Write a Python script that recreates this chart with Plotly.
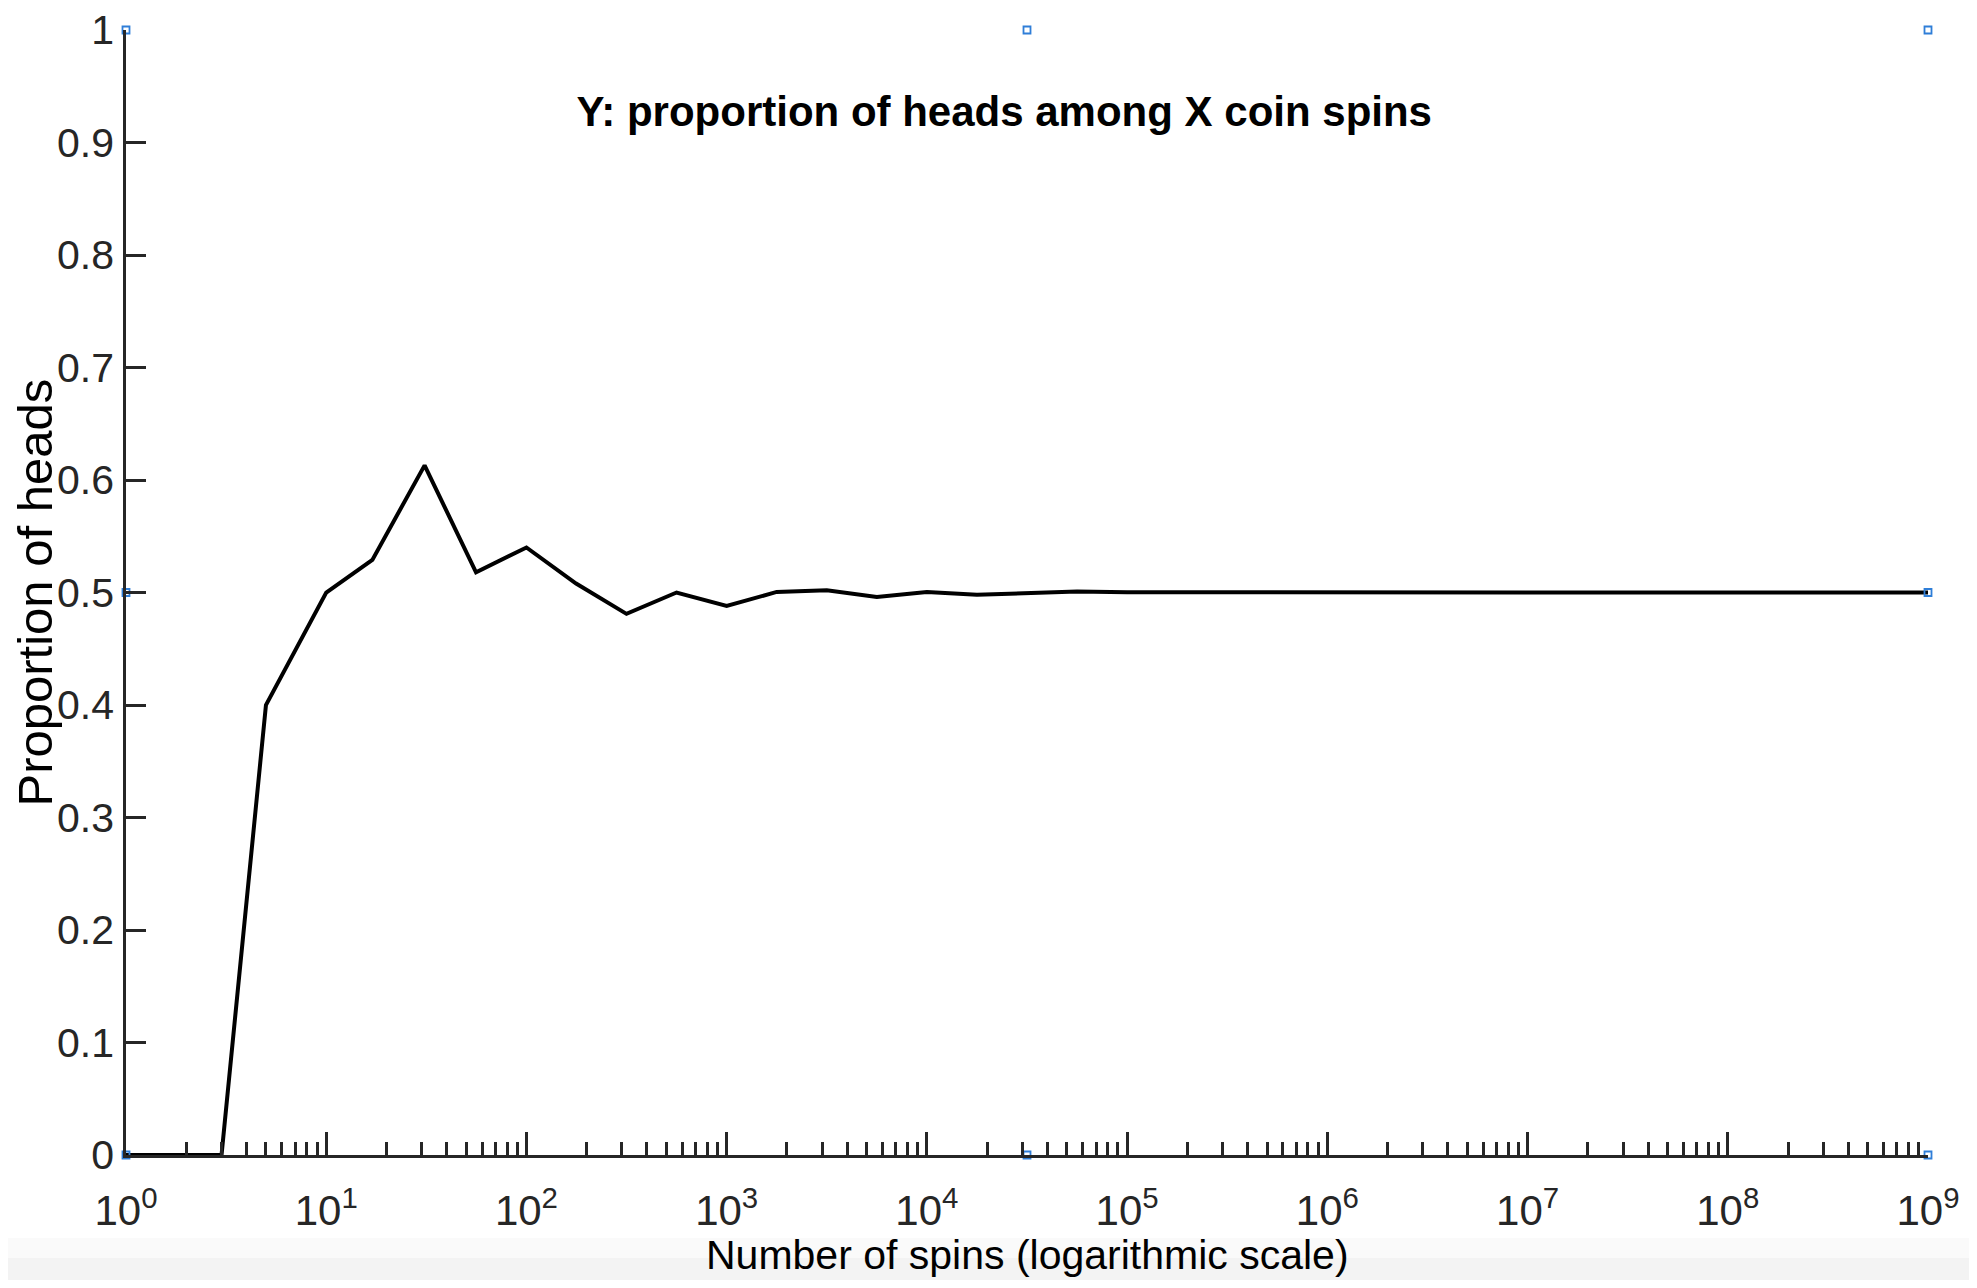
import plotly.graph_objects as go

# ---- data ----
spins = [1, 1, 3, 5, 10, 17, 31, 56, 100, 177, 316, 562, 1000, 1778, 3162, 5623,
         10000, 17782, 31622, 56234, 100000, 177827, 316227, 562341, 1000000,
         1778279, 3162277, 5623413, 10000000, 17782794, 31622776, 56234132,
         100000000, 177827941, 316227766, 562341325, 1000000000]
proportion = [0.0, 0.0, 0.0, 0.4, 0.5, 0.529, 0.613, 0.518, 0.54, 0.508, 0.481, 0.5,
              0.488, 0.5005, 0.502, 0.496, 0.5005, 0.498, 0.499, 0.5008, 0.5002,
              0.5001, 0.5003, 0.4998, 0.5, 0.5001, 0.5, 0.5, 0.5, 0.5, 0.5, 0.5,
              0.5, 0.5, 0.5, 0.5, 0.5]

x_tickvals = [1, 10, 100, 1000, 1e4, 1e5, 1e6, 1e7, 1e8, 1e9]
x_ticktext = ["10<sup>%d</sup>" % i for i in range(10)]
y_tickvals = [0, 0.1, 0.2, 0.3, 0.4, 0.5, 0.6, 0.7, 0.8, 0.9, 1]
y_ticktext = ["0", "0.1", "0.2", "0.3", "0.4", "0.5", "0.6", "0.7", "0.8", "0.9", "1"]

# selection-handle markers seen in the figure
handle_x = [1, 31622.78, 1e9, 1, 1e9, 1, 31622.78, 1e9]
handle_y = [1, 1, 1, 0.5, 0.5, 0, 0, 0]

title_text = "Y: proportion of heads among X coin spins"
x_title = "Number of spins (logarithmic scale)"
y_title = "Proportion of heads"

FONT = "Liberation Sans, Arial, sans-serif"
AX = "#262626"

W, H = 1961, 1272  # page body has an 8px margin

fig = go.Figure()
fig.add_trace(go.Scatter(x=spins, y=proportion, mode="lines",
                         line=dict(color="black", width=4), showlegend=False,
                         cliponaxis=False))
fig.add_trace(go.Scatter(x=handle_x, y=handle_y, mode="markers",
                         marker=dict(symbol="square-open", size=7,
                                     color="#2F7ED8", line=dict(width=1.8)),
                         showlegend=False, cliponaxis=False))

fig.update_layout(
    width=W, height=H,
    margin=dict(l=118, r=41, t=22, b=125),
    paper_bgcolor="white", plot_bgcolor="white",
    font=dict(family=FONT, color="black", size=42),
    title=dict(text="<b>" + title_text + "</b>", x=0.508, xanchor="center",
               y=1 - 103 / H, yanchor="middle",
               font=dict(size=42, family=FONT, color="black")),
    shapes=[
        dict(type="rect", xref="paper", yref="paper", x0=-0.1, x1=1.1,
             y0=-0.2, y1=-(1238 - 1155) / 1125, fillcolor="#fafafa",
             line=dict(width=0), layer="below"),
        dict(type="rect", xref="paper", yref="paper", x0=-0.1, x1=1.1,
             y0=-0.2, y1=-(1258 - 1155) / 1125, fillcolor="#f3f3f3",
             line=dict(width=0), layer="below"),
    ],
    annotations=[
        dict(text=x_title, xref="paper", yref="paper", x=0.5, y=0,
             xanchor="center", yanchor="middle", yshift=-100, showarrow=False,
             font=dict(size=41, family=FONT, color="black")),
        dict(text=y_title, xref="paper", yref="paper", x=0, y=0.5,
             xanchor="center", yanchor="middle", xshift=-92, textangle=-90,
             showarrow=False, font=dict(size=49, family=FONT, color="black")),
    ],
)
fig.update_xaxes(
    type="log", range=[0, 9], showgrid=False, zeroline=False, automargin=False,
    showline=True, linecolor=AX, linewidth=2.5,
    tickmode="array", tickvals=x_tickvals, ticktext=x_ticktext,
    ticks="inside", ticklen=23, tickwidth=2.5, tickcolor=AX,
    ticklabelstandoff=17, ticklabeloverflow="allow",
    tickfont=dict(size=42, family=FONT, color=AX),
    minor=dict(dtick="D1", ticks="inside", ticklen=13, tickwidth=2.5,
               tickcolor=AX, showgrid=False),
)
fig.update_yaxes(
    range=[0, 1], showgrid=False, zeroline=False, automargin=False,
    showline=True, linecolor=AX, linewidth=2.5,
    tickmode="array", tickvals=y_tickvals, ticktext=y_ticktext,
    ticks="inside", ticklen=20, tickwidth=2.5, tickcolor=AX,
    ticklabelstandoff=1, ticklabeloverflow="allow",
    tickfont=dict(size=41, family=FONT, color=AX),
)

fig.write_html("out.html")
